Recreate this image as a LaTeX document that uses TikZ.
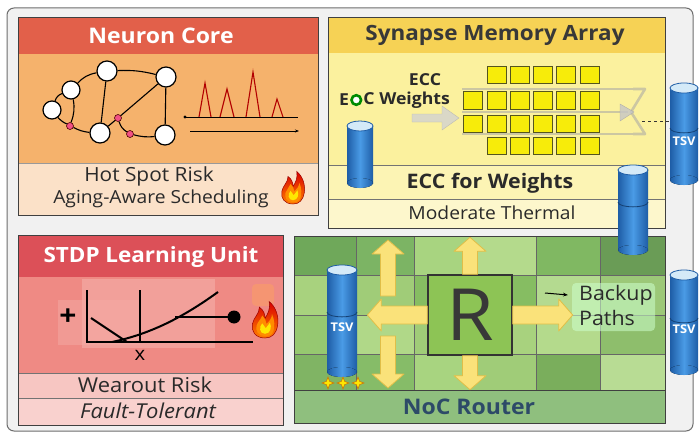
\documentclass[tikz,border=0pt]{standalone}
\usepackage{fontspec}
\setmainfont{Open Sans}[FakeStretch=1.07]
\usetikzlibrary{arrows.meta,calc}

\definecolor{frameFill}{HTML}{F1F1F1}
\definecolor{frameLine}{HTML}{6E6E6E}
\definecolor{txt}{HTML}{2A2A2A}
% neuron core
\definecolor{ncHead}{HTML}{E2604A}
\definecolor{ncBody}{HTML}{F5B26C}
\definecolor{ncFoot}{HTML}{FBE1C8}
% synapse memory
\definecolor{smHead}{HTML}{F6D255}
\definecolor{smBody}{HTML}{FBF19E}
\definecolor{smBand}{HTML}{FCF4B4}
\definecolor{smFoot}{HTML}{FDF7CC}
\definecolor{cell}{HTML}{F7EC0A}
\definecolor{cellLine}{HTML}{55551E}
% stdp
\definecolor{stHead}{HTML}{DC5058}
\definecolor{stBody}{HTML}{EF8A84}
\definecolor{stPatch}{HTML}{F4AAA4}
\definecolor{stBand}{HTML}{F7C6C2}
% noc
\definecolor{nocBand}{HTML}{8FBF7E}
\definecolor{nocText}{HTML}{2D4A68}
\definecolor{routerFill}{HTML}{8DC455}
\definecolor{arrowFill}{HTML}{FAE27A}
\definecolor{arrowLine}{HTML}{E0BE48}
% tsv
\definecolor{cylDark}{HTML}{1E5DA6}
\definecolor{cylLight}{HTML}{4A9BE6}
\definecolor{cylTop}{HTML}{D4EAF8}

\tikzset{
  panelline/.style={draw=black!75, line width=0.9pt},
  hdr/.style={text=white, font=\bfseries\fontsize{21}{22}\selectfont},
  lbl/.style={text=txt, font=\fontsize{18}{20}\selectfont},
  neuron/.style={circle, draw=black, fill=white, line width=1.2pt, minimum size=20pt, inner sep=0pt},
  syn/.style={circle, draw=black!70!red, fill=magenta!60!red!70, line width=0.6pt, minimum size=7pt, inner sep=0pt},
  wire/.style={draw=black, line width=1.1pt},
  spike/.style={draw=red!70!black, line width=1.1pt, line join=miter},
  tsvlbl/.style={text=white, font=\bfseries\fontsize{12}{13}\selectfont},
  plotline/.style={draw=black, line width=2pt},
  grayflow/.style={draw=gray!70, line width=2.6pt, opacity=0.55},
  pics/barrow/.style n args={3}{code={
    \filldraw[fill=arrowFill, draw=arrowLine, line width=0.8pt, line join=round]
      (0,-#2) -- ({#1-14},-#2) -- ({#1-14},-#3) -- (#1,0) -- ({#1-14},#3)
      -- ({#1-14},#2) -- (0,#2) -- cycle;}},
  pics/flame/.style={code={
    \begin{scope}[yscale=-1]
      \shade[top color=red!85!black, bottom color=orange, draw=red!60!black, line width=0.5pt]
        (0,0) .. controls (-7,0) and (-10,5) .. (-9,10)
        .. controls (-8,15) and (-4,17) .. (-4,22)
        .. controls (-1,20) and (0,17) .. (0,14)
        .. controls (2,17) and (4,21) .. (3,26)
        .. controls (8,22) and (10,15) .. (9,9)
        .. controls (8,3) and (5,0) .. (0,0) -- cycle;
      \fill[orange!90!yellow]
        (0,1.5) .. controls (-5,1.5) and (-7,5) .. (-6,9)
        .. controls (-5,12) and (-3,13) .. (-2,16)
        .. controls (0,14) and (1,12) .. (1,10)
        .. controls (3,12) and (5,14) .. (5,17)
        .. controls (7,13) and (7,8) .. (6,5)
        .. controls (5,2) and (3,1.5) .. (0,1.5) -- cycle;
      \fill[yellow!90!orange]
        (0,3) .. controls (-4,3) and (-4.5,8) .. (-2,10.5)
        .. controls (-1,9) and (0,8) .. (0.5,7)
        .. controls (2,9) and (3,10) .. (3.5,11)
        .. controls (5,8) and (4,3) .. (0,3) -- cycle;
    \end{scope}}},
  pics/spark/.style={code={
    \filldraw[fill=yellow!90!orange, draw=orange!80!black, line width=0.5pt]
      (0,-6) -- (1.6,-1.6) -- (6,0) -- (1.6,1.6) -- (0,6) -- (-1.6,1.6)
      -- (-6,0) -- (-1.6,-1.6) -- cycle;}}
}

% cylinder: centre x, top y, bottom y, half width, band y (0 = none)
\newcommand\drawcyl[5]{%
  \fill[left color=cylDark, right color=cylDark, middle color=cylLight]
    ({#1-#4},#2) rectangle ({#1+#4},#3);
  \fill[left color=cylDark, right color=cylDark, middle color=cylLight]
    (#1,#3) ellipse [x radius=#4, y radius=5];
  \ifdim #5pt>0pt
    \draw[cylDark!70!black, line width=0.8pt]
      ({#1-#4},#5) .. controls ({#1-#4},{#5+6.5}) and ({#1+#4},{#5+6.5}) .. ({#1+#4},#5);
  \fi
  \filldraw[fill=cylTop, draw=cylDark, line width=0.8pt]
    (#1,#2) ellipse [x radius=#4, y radius=5];
}

\begin{document}
\begin{tikzpicture}[x=1pt, y=-1pt]
\useasboundingbox (0,0) rectangle (699,436);
\fill[white] (0,0) rectangle (699,436);

% outer frame
\filldraw[fill=frameFill, draw=frameLine, line width=1pt, rounded corners=7pt]
  (7,8) rectangle (693,431);

% ---------------- Neuron Core ----------------
\fill[ncHead] (18,17) rectangle (318,54);
\fill[ncBody] (18,54) rectangle (318,163);
\fill[ncFoot] (18,163) rectangle (318,215);
\draw[black!40] (18,163) -- (318,163);
\draw[panelline] (18,17) rectangle (318,215);
\node[hdr, font=\bfseries\fontsize{21.5}{22}\selectfont] (nctitle) at (161,36) {Neuron Core};
\node[lbl, font=\fontsize{19.5}{20}\selectfont] (ncrisk) at (149,176) {Hot Spot Risk};
\node[lbl] (ncsched) at (161,199) {Aging-Aware Scheduling};
\pic[scale=1.25] at (293,204) {flame};

% neuron network
\node[neuron] (n1) at (107,71) {};
\node[neuron] (n2) at (166,77) {};
\node[neuron, minimum size=18pt] (n3) at (71,90) {};
\node[neuron, minimum size=18pt] (n4) at (52,110) {};
\node[neuron] (n5) at (100,133) {};
\node[neuron] (n6) at (165,135) {};
\node[syn] (p1) at (70,126) {};
\node[syn] (p2) at (118,118) {};
\node[syn] (p3) at (130,134) {};
\draw[wire] (n1) to[bend left=8] (n2);
\draw[wire] (n1) to[bend right=18] (n3);
\draw[wire] (n3) to[bend right=25] (n4);
\draw[wire] (n1) -- (n5);
\draw[wire] (n2) -- (n6);
\draw[wire] (n2) -- (p2);
\draw[wire] (p2) -- (n5);
\draw[wire] (n4) to[bend right=10] (p1);
\draw[wire] (p1) to[bend right=10] (n5);
\draw[wire] (n3) to[bend left=15] (p1);
\draw[wire] (p2) to[bend right=20] (p3);
\draw[wire] (p3) to[bend right=10] (n6);

% spike train
\draw[spike] (199,117) -- (205,83) -- (211,117);
\draw[spike] (220,117) -- (227,89) -- (234,117);
\draw[spike] (246,117) -- (253,72) -- (260,117);
\draw[spike] (272,117) -- (277,99) -- (283,117);
\coordinate (sa) at (185,117);
\coordinate (sb) at (298,117);
\coordinate (sc) at (190,131);
\coordinate (sd) at (299,131);
\draw[black, line width=0.9pt] (sa) -- (sb);
\fill (sa) circle (1.6);
\draw[black, line width=0.9pt, -{Stealth[length=4pt]}] (sc) -- (sd);

% ---------------- Synapse Memory Array ----------------
\fill[smHead] (328,17) rectangle (665,53);
\fill[smBody] (328,53) rectangle (665,165);
\fill[smBand] (328,165) rectangle (665,199);
\fill[smFoot] (328,199) rectangle (665,228);
\draw[black!55] (328,165) -- (665,165);
\draw[black!55] (328,199) -- (665,199);
\draw[panelline] (328,17) rectangle (665,228);
\node[hdr, text=black!78] (smtitle) at (495,35) {Synapse Memory Array};
\node[lbl, font=\bfseries\fontsize{20}{21}\selectfont] (smecc) at (490,183) {ECC for Weights};
\node[lbl] (smthermal) at (492,213) {Moderate Thermal};

% memory cells
\foreach \r/\y in {0/67,1/92,2/115,3/137} {
  \foreach \c in {0,...,4} {
    \filldraw[fill=cell, draw=cellLine, line width=1pt]
      ({487+23.3*\c},\y) rectangle ++(19,17);
  }
}
\filldraw[fill=cell, draw=cellLine, line width=1pt] (463,92) rectangle ++(19,17);
\filldraw[fill=cell, draw=cellLine, line width=1pt] (463,115) rectangle ++(19,17);

% weight flow through the array
\draw[grayflow] (462,89) -- (633,89);
\draw[grayflow] (462,112) -- (628,112);
\draw[grayflow] (462,134) -- (633,134);
\draw[grayflow, line join=round] (633,89) -- (645,89) -- (631,112) -- (645,134) -- (633,134);
\filldraw[fill=gray!45, draw=gray!70, opacity=0.8] (620,104) -- (634,112) -- (620,121) -- cycle;
\filldraw[fill=gray!35, draw=gray!60, opacity=0.8]
  (412,114) -- (442,114) -- (442,106) -- (459,118) -- (442,130) -- (442,122) -- (412,122) -- cycle;
\coordinate (dashA) at (642,121);

% ECC weights label
\node[text=txt, font=\bfseries\fontsize{16.5}{17}\selectfont] (eccA) at (425,80) {ECC};
\node[text=txt, font=\bfseries\fontsize{16.5}{17}\selectfont, anchor=west, inner sep=0pt] (eccE) at (339,100) {E};
\node[text=txt, font=\bfseries\fontsize{16.5}{17}\selectfont, anchor=west, inner sep=0pt] (eccW) at ([xshift=14pt]eccE.east) {C Weights};
\filldraw[fill=white, draw=green!55!black, line width=2.6pt] ([xshift=7pt]eccE.east) circle (4.8);

% TSVs
\drawcyl{360}{126}{183}{13}{0}
\drawcyl{684}{88}{180}{14}{128}
\node[tsvlbl] (tsvA) at (684,141) {TSV};
\draw[black!80, dashed, line width=0.8pt] (dashA) -- (670,121);

% ---------------- STDP Learning Unit ----------------
\fill[stHead] (18,235) rectangle (283,277);
\fill[stBody] (18,277) rectangle (283,373);
\fill[stPatch, opacity=0.7] (82,279) rectangle (215,348);
\fill[stPatch, opacity=0.5] (58,300) rectangle (140,345);
\fill[orange!35!stPatch, opacity=0.7, rounded corners=4pt] (252,284) rectangle (274,306);
\fill[stBand] (18,373) rectangle (283,398);
\fill[stBand!80!white] (18,398) rectangle (283,425);
\draw[black!55] (18,373) -- (283,373);
\draw[black!55] (18,398) -- (283,398);
\draw[panelline] (18,235) rectangle (283,425);
\node[hdr] (sttitle) at (151,257) {STDP Learning Unit};
\node[lbl, font=\fontsize{20.5}{21}\selectfont] (stwear) at (145,385) {Wearout Risk};
\node[lbl, font=\itshape\fontsize{20.5}{21}\selectfont] (stfault) at (148,411) {Fault-Tolerant};

% STDP curve
\draw[plotline] (87,290) -- (87,342) -- (253,342);
\draw[plotline] (140,290) -- (140,342);
\draw[plotline] (91,318) -- (127,342);
\draw[plotline] (112,342) .. controls (150,334) and (182,318) .. (218,292);
\draw[plotline] (175,317) -- (233,317);
\fill (234,317) circle (6.5);
\node[text=black, font=\bfseries\fontsize{28}{28}\selectfont] (stplus) at (68,317) {+};
\node[text=black, font=\fontsize{19}{20}\selectfont] (stx) at (140,355) {x};
\pic[scale=1.4] at (265,338) {flame};

% ---------------- NoC Router ----------------
\def\gx{{294,356,414,470,536,600,665}}
\foreach \col/\cls in {
  0/6FA85A,1/7CB464,2/A8D480,3/B4DA8C,4/80B862,5/6A9C56} {
  \definecolor{tile}{HTML}{\cls}
  \pgfmathsetmacro\xa{\gx[\col]}\pgfmathsetmacro\xb{\gx[\col+1]}
  \filldraw[fill=tile, draw=black!60, line width=0.5pt] (\xa,236) rectangle (\xb,275);
}
\foreach \col/\cls in {
  0/A8D27E,1/A0CC78,2/86BD62,3/86BD62,4/B4DA90,5/9CC878} {
  \definecolor{tile}{HTML}{\cls}
  \pgfmathsetmacro\xa{\gx[\col]}\pgfmathsetmacro\xb{\gx[\col+1]}
  \filldraw[fill=tile, draw=black!60, line width=0.5pt] (\xa,275) rectangle (\xb,315);
}
\foreach \col/\cls in {
  0/96C870,1/B0D888,2/A0CC78,3/A8D27E,4/B4DA8C,5/8EBE6C} {
  \definecolor{tile}{HTML}{\cls}
  \pgfmathsetmacro\xa{\gx[\col]}\pgfmathsetmacro\xb{\gx[\col+1]}
  \filldraw[fill=tile, draw=black!60, line width=0.5pt] (\xa,315) rectangle (\xb,354);
}
\foreach \col/\cls in {
  0/80B464,1/86BC68,2/A8D480,3/A0CC78,4/7AAE5C,5/B8DC94} {
  \definecolor{tile}{HTML}{\cls}
  \pgfmathsetmacro\xa{\gx[\col]}\pgfmathsetmacro\xb{\gx[\col+1]}
  \filldraw[fill=tile, draw=black!60, line width=0.5pt] (\xa,354) rectangle (\xb,390);
}
\fill[nocBand] (294,390) rectangle (665,423);
\draw[panelline] (294,390) -- (665,390);
\draw[panelline] (294,236) rectangle (665,423);
\node[text=nocText, font=\bfseries\fontsize{21.5}{22}\selectfont] (noctitle) at (469,407) {NoC Router};

% backup path label
\fill[green!20!white, opacity=0.55, rounded corners=4pt] (572,283) rectangle (655,331);
\node[text=txt, font=\fontsize{20}{21}\selectfont, anchor=west, inner sep=2pt] (backup) at (577,295) {Backup};
\node[text=txt, font=\fontsize{20}{21}\selectfont, anchor=west, inner sep=2pt] (paths) at (577,318) {Paths};
\coordinate (bkA) at (545,293);
\draw[black, line width=1pt, -{Stealth[length=5pt]}] (bkA) -- ([xshift=-9pt]backup.west);

% router and links
\node[draw=black!80, fill=routerFill, line width=1.4pt, minimum width=84pt, minimum height=80pt,
      text=black!78, font=\fontsize{72}{72}\selectfont] (router) at (470,315) {R};
\pic[rotate=90] at (router.north) {barrow={37}{7.5}{16}};
\pic[rotate=-90] at (router.south) {barrow={34}{7.5}{16}};
\pic[rotate=180] at (router.west) {barrow={60}{9}{16}};
\pic at (router.east) {barrow={60}{9}{16}};
\pic[rotate=90] at (388,296) {barrow={56}{7.5}{16}};
\pic[rotate=-90] at (388,336) {barrow={52}{7.5}{16}};

% TSVs at the router
\drawcyl{342}{270}{372}{15}{312}
\node[tsvlbl] (tsvB) at (342,327) {TSV};
\pic at (328,383) {spark};
\pic at (343,383) {spark};
\pic at (358,383) {spark};
\drawcyl{684}{275}{370}{14}{318}
\node[tsvlbl] (tsvC) at (684,329) {TSV};
\drawcyl{633}{170}{250}{15}{202}

\end{tikzpicture}
\end{document}
